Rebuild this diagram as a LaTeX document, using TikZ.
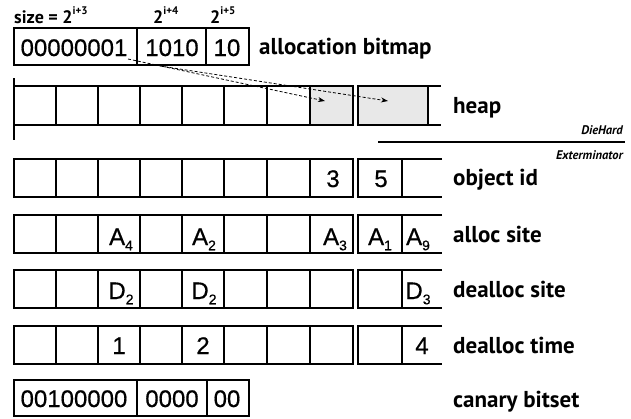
\documentclass[tikz,border=0pt]{standalone}
\usepackage{fontspec}
\setmainfont{Liberation Sans}
\newfontfamily\cellfont[FakeBold=0.6]{Liberation Sans}
\newfontfamily\labfont{PT Sans}
\usetikzlibrary{arrows.meta}
\newcommand{\lowidx}[1]{\raisebox{-0.22em}{\fontsize{14}{14}\selectfont #1}}
\newcommand{\hiidx}[1]{\raisebox{0.5em}{\fontsize{11}{11}\selectfont #1}}
\newcommand{\gridrow}[2]{%
  \draw[cl] (14,#1) rectangle (353,#2);
  \foreach \xx in {56,98,140,182,224,267,310} \draw[cl] (\xx,#1) -- (\xx,#2);
  \draw[cl] (442,#1) -- (358,#1) -- (358,#2) -- (442,#2);
  \draw[cl] (402,#1) -- (402,#2);
}
\begin{document}
\begin{tikzpicture}[x=1pt,y=-1pt,
  cl/.style={line width=2pt},
  shade/.style={fill=black!9},
  ct/.style={font=\cellfont\fontsize{24}{24}\selectfont, anchor=base, inner sep=0pt},
  lab/.style={font=\labfont\bfseries\fontsize{23}{23}\selectfont, anchor=base west, inner sep=0pt},
  hd/.style={font=\labfont\bfseries\fontsize{18}{18}\selectfont, anchor=base west, inner sep=0pt},
  tag/.style={font=\labfont\bfseries\itshape\fontsize{12.5}{12.5}\selectfont, anchor=base east, inner sep=0pt},
  ptr/.style={line width=0.8pt, dash pattern=on 3pt off 2pt, -{Stealth[length=7pt,width=5pt]}}]
\useasboundingbox (0,0) rectangle (631,418);

% headings
\node[hd] (h1) at (14,23) {size = 2\hiidx{i+3}};
\node[hd] (h2) at (153,23) {2\hiidx{i+4}};
\node[hd] (h3) at (210,23) {2\hiidx{i+5}};

% allocation bitmap
\draw[cl] (14,28) rectangle (249,65);
\draw[cl] (137,28) -- (137,65) (206,28) -- (206,65);
\node[ct] (bm1) at (74,56) {00000001};
\node[ct] (bm2) at (172,56) {1010};
\node[ct] (bm3) at (227,56) {10};
\node[lab] (lbm) at (259,54) {allocation bitmap};

% heap
\draw[cl,shade] (310,86) rectangle (353,125);
\draw[cl] (14,86) rectangle (353,125);
\foreach \xx in {56,98,140,182,224,267} \draw[cl] (\xx,86) -- (\xx,125);
\draw[cl] (14,78) -- (14,140);
\draw[cl,shade] (358,86) rectangle (428,125);
\draw[cl] (428,86) -- (441,86) (428,125) -- (441,125);
\coordinate (hc8) at (325,101);
\coordinate (hblk) at (388,101);
\node[lab] (lheap) at (453,113) {heap};

% pointers
\coordinate (p1) at (128,59);
\coordinate (p2) at (160,66);
\draw[ptr] (p1) -- (hc8);
\draw[ptr] (p2) -- (hblk);

% DieHard / Exterminator
\coordinate (sepL) at (378,142);
\coordinate (sepR) at (625,142);
\draw[line width=1.3pt] (sepL) -- (sepR);
\node[tag] (dh) at (623,134) {DieHard};
\node[tag] (ex) at (623,159) {Exterminator};

% object id
\gridrow{159}{197}
\node[ct] (o8) at (333,187) {3};
\node[ct] (o9) at (381,187) {5};
\node[lab] (lobj) at (453,185) {object id};

% alloc site
\gridrow{215}{253}
\node[ct] (a3) at (121,245) {A\lowidx{4}};
\node[ct] (a5) at (204,245) {A\lowidx{2}};
\node[ct] (a8) at (335,245) {A\lowidx{3}};
\node[ct] (a9) at (380,245) {A\lowidx{1}};
\node[ct] (a10) at (418,245) {A\lowidx{9}};
\node[lab] (lalloc) at (453,242) {alloc site};

% dealloc site
\gridrow{270}{308}
\node[ct] (d3) at (121,299) {D\lowidx{2}};
\node[ct] (d5) at (204,299) {D\lowidx{2}};
\node[ct] (d10) at (418,299) {D\lowidx{3}};
\node[lab] (ldsite) at (453,297) {dealloc site};

% dealloc time
\gridrow{326}{364}
\node[ct] (t3) at (119,354) {1};
\node[ct] (t5) at (203,354) {2};
\node[ct] (t10) at (422,354) {4};
\node[lab] (ldtime) at (453,353) {dealloc time};

% canary bitset
\draw[cl] (14,380) rectangle (249,416);
\draw[cl] (137,380) -- (137,416) (207,380) -- (207,416);
\node[ct] (cb1) at (74,407) {00100000};
\node[ct] (cb2) at (172,407) {0000};
\node[ct] (cb3) at (227,407) {00};
\node[lab] (lcan) at (453,407) {canary bitset};
\end{tikzpicture}
\end{document}
